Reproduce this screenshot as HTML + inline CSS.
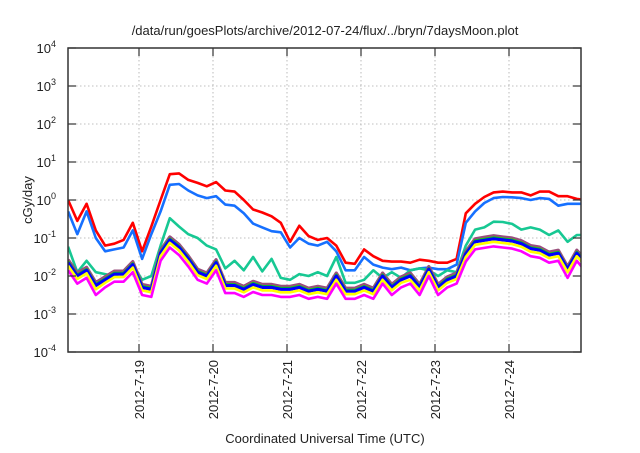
<!DOCTYPE html>
<html><head><meta charset="utf-8"><style>
html,body{margin:0;padding:0;background:#fff;}
svg text{font-family:"Liberation Sans",sans-serif;fill:#222;}
</style></head><body>
<svg id="chart" width="640" height="448" viewBox="0 0 640 448" xmlns="http://www.w3.org/2000/svg">
<rect x="0" y="0" width="640" height="448" fill="#fff"/>
<defs><clipPath id="clip"><rect x="68" y="48" width="513" height="304"/></clipPath></defs>
<text x="325" y="35" font-size="13" text-anchor="middle">/data/run/goesPlots/archive/2012-07-24/flux/../bryn/7daysMoon.plot</text>
<g id="grid"></g>
<g id="series" clip-path="url(#clip)"></g>
<rect x="68" y="48" width="513" height="304" fill="none" stroke="#333" stroke-width="1.5"/>
<g id="axes"></g>
<text transform="translate(32,200) rotate(-90)" font-size="13" text-anchor="middle">cGy/day</text>
<text x="325" y="443" font-size="13" text-anchor="middle">Coordinated Universal Time (UTC)</text>
</svg>
<script>
const hours=[1,4,7,10,13,16,19,22,25,28,31,34,37,40,43,46,49,52,55,58,61,64,67,70,73,76,79,82,85,88,91,94,97,100,103,106,109,112,115,118,121,124,127,130,133,136,139,142,145,148,151,154,157,160,163,166,169];
const xTickHours=[24,48,72,96,120,144];
const xTickLabels=["2012-7-19","2012-7-20","2012-7-21","2012-7-22","2012-7-23","2012-7-24"];
const yTickExps=[-4,-3,-2,-1,0,1,2,3,4];
const red=[0,-0.55,-0.1,-0.8,-1.2,-1.15,-1.05,-0.6,-1.35,-0.7,0,0.68,0.7,0.53,0.45,0.36,0.47,0.25,0.22,0,-0.25,-0.33,-0.43,-0.6,-1.1,-0.68,-0.95,-1.05,-1.0,-1.2,-1.65,-1.68,-1.3,-1.48,-1.6,-1.62,-1.62,-1.65,-1.57,-1.6,-1.65,-1.65,-1.55,-0.35,-0.1,0.08,0.2,0.22,0.2,0.2,0.12,0.22,0.22,0.1,0.1,0.03,0];
const blue=[-0.3,-0.9,-0.3,-1.0,-1.35,-1.3,-1.25,-0.8,-1.55,-0.9,-0.3,0.4,0.42,0.25,0.12,0.05,0.1,-0.12,-0.15,-0.35,-0.62,-0.72,-0.82,-0.85,-1.25,-1.0,-1.15,-1.2,-1.1,-1.35,-1.85,-1.85,-1.5,-1.7,-1.78,-1.82,-1.78,-1.85,-1.8,-1.78,-1.82,-1.82,-1.7,-0.6,-0.3,-0.08,0.05,0.08,0.07,0.05,0.0,0.05,0.03,-0.15,-0.1,-0.1,-0.1];
const teal=[-1.23,-1.9,-1.6,-1.9,-1.95,-2.0,-1.9,-1.7,-2.1,-2.0,-1.2,-0.48,-0.7,-0.9,-1.0,-1.2,-1.3,-1.8,-1.6,-1.85,-1.5,-1.88,-1.55,-2.05,-2.1,-1.95,-2.0,-1.9,-2.0,-1.5,-2.18,-2.18,-2.1,-1.85,-2.05,-1.9,-2.05,-1.85,-1.8,-1.85,-2.0,-1.85,-1.9,-1.2,-0.78,-0.72,-0.57,-0.58,-0.63,-0.78,-0.72,-0.78,-0.92,-0.8,-1.1,-0.92,-0.92];
const purple=[-1.57,-1.92,-1.77,-2.17,-2.02,-1.87,-1.87,-1.62,-2.22,-2.27,-1.32,-0.97,-1.17,-1.47,-1.82,-1.92,-1.57,-2.17,-2.17,-2.27,-2.14,-2.22,-2.22,-2.27,-2.27,-2.22,-2.32,-2.27,-2.32,-1.92,-2.32,-2.32,-2.22,-2.32,-1.92,-2.22,-2.02,-1.92,-2.22,-1.75,-2.22,-2.02,-1.92,-1.35,-1.02,-0.98,-0.94,-0.97,-1.0,-1.07,-1.2,-1.24,-1.37,-1.32,-1.75,-1.32,-1.6];
const green=[-1.62,-1.97,-1.82,-2.22,-2.07,-1.92,-1.92,-1.67,-2.27,-2.32,-1.37,-1.02,-1.22,-1.52,-1.87,-1.97,-1.62,-2.22,-2.22,-2.32,-2.19,-2.27,-2.27,-2.32,-2.32,-2.27,-2.37,-2.32,-2.37,-1.97,-2.37,-2.37,-2.27,-2.37,-1.97,-2.27,-2.07,-1.97,-2.27,-1.8,-2.27,-2.07,-1.97,-1.4,-1.07,-1.03,-0.99,-1.02,-1.05,-1.12,-1.25,-1.29,-1.42,-1.37,-1.8,-1.37,-1.65];
const darkBlue=[-1.65,-2.0,-1.85,-2.25,-2.1,-1.95,-1.95,-1.7,-2.3,-2.35,-1.4,-1.05,-1.25,-1.55,-1.9,-2.0,-1.65,-2.25,-2.25,-2.35,-2.22,-2.3,-2.3,-2.35,-2.35,-2.3,-2.4,-2.35,-2.4,-2.0,-2.4,-2.4,-2.3,-2.4,-2.0,-2.3,-2.1,-2.0,-2.3,-1.82,-2.3,-2.1,-2.0,-1.42,-1.1,-1.06,-1.02,-1.05,-1.08,-1.15,-1.28,-1.32,-1.45,-1.4,-1.82,-1.4,-1.68];
const yellow=[-1.73,-2.08,-1.93,-2.35,-2.18,-2.03,-2.03,-1.78,-2.38,-2.43,-1.48,-1.13,-1.33,-1.63,-1.98,-2.08,-1.73,-2.33,-2.33,-2.43,-2.3,-2.38,-2.38,-2.43,-2.43,-2.38,-2.48,-2.43,-2.48,-2.1,-2.48,-2.48,-2.38,-2.48,-2.1,-2.38,-2.18,-2.1,-2.38,-1.9,-2.38,-2.18,-2.08,-1.5,-1.18,-1.14,-1.1,-1.13,-1.16,-1.23,-1.36,-1.4,-1.53,-1.48,-1.9,-1.48,-1.75];
const magenta=[-1.85,-2.2,-2.05,-2.5,-2.3,-2.15,-2.15,-1.9,-2.5,-2.55,-1.6,-1.25,-1.45,-1.75,-2.1,-2.2,-1.85,-2.45,-2.45,-2.55,-2.42,-2.5,-2.5,-2.55,-2.55,-2.5,-2.6,-2.55,-2.6,-2.2,-2.6,-2.6,-2.5,-2.6,-2.2,-2.5,-2.3,-2.2,-2.5,-2.0,-2.5,-2.3,-2.2,-1.62,-1.3,-1.26,-1.22,-1.25,-1.28,-1.35,-1.48,-1.52,-1.65,-1.6,-2.05,-1.6,-1.9];

const NS="http://www.w3.org/2000/svg";
function xs(h){return 139+(h-24)*74/24;}
function ys(v){return 200-38*v;}
function mk(tag,attrs,parent){const e=document.createElementNS(NS,tag);for(const k in attrs)e.setAttribute(k,attrs[k]);parent.appendChild(e);return e;}
const grid=document.getElementById('grid'),axes=document.getElementById('axes'),ser=document.getElementById('series');
yTickExps.forEach(function(p){
  const y=ys(p);
  if(p>-4&&p<4){const g=mk('line',{x1:68,x2:581,y1:y,y2:y,stroke:'#aaa','stroke-width':0.8,'stroke-dasharray':'1.5,2.5'},grid);
  
  }
  const t1=mk('line',{x1:68,x2:76,y1:y,y2:y,stroke:'#333','stroke-width':1.2},axes);
  
  
  const t2=mk('line',{x1:573,x2:581,y1:y,y2:y,stroke:'#333','stroke-width':1.2},axes);
  
  
  const tx=mk('text',{x:56,y:y+5,'font-size':13,'text-anchor':'end'},axes);
  
  
  tx.textContent='10';
  const sp=mk('tspan',{dy:-6,'font-size':9},tx);sp.textContent=String(p);
});
xTickHours.forEach(function(h,i){
  const x=xs(h);
  const g=mk('line',{x1:x,x2:x,y1:48,y2:352,stroke:'#aaa','stroke-width':0.8,'stroke-dasharray':'1.5,2.5'},grid);
  
  
  const t1=mk('line',{x1:x,x2:x,y1:344,y2:352,stroke:'#333','stroke-width':1.2},axes);
  
  
  const t2=mk('line',{x1:x,x2:x,y1:48,y2:56,stroke:'#333','stroke-width':1.2},axes);
  
  
  const tx=mk('text',{transform:'translate('+(x+5)+',360) rotate(-90)','font-size':13,'text-anchor':'end'},axes);
  
  
  tx.textContent=xTickLabels[i];
});
const seriesList=[[red,'#ff0000','red'],[blue,'#1670ff','blue'],[teal,'#17c893','teal'],[purple,'#9a4f7c','purple'],[green,'#00e000','green'],[darkBlue,'#0000ff','dark-blue'],[yellow,'#ffff00','yellow'],[magenta,'#ff00ff','magenta']];
seriesList.forEach(function(s){
  const d=s[0].map(function(v,i){return (i?'L':'M')+xs(hours[i]).toFixed(1)+','+ys(v).toFixed(1);}).join(' ');
  const p=mk('path',{d:d,fill:'none',stroke:s[1],'stroke-width':s[2]==='purple'||s[2]==='dark-blue'?3.2:2.6,'stroke-linejoin':'round'},ser);
  
  
});
</script>
</body></html>
